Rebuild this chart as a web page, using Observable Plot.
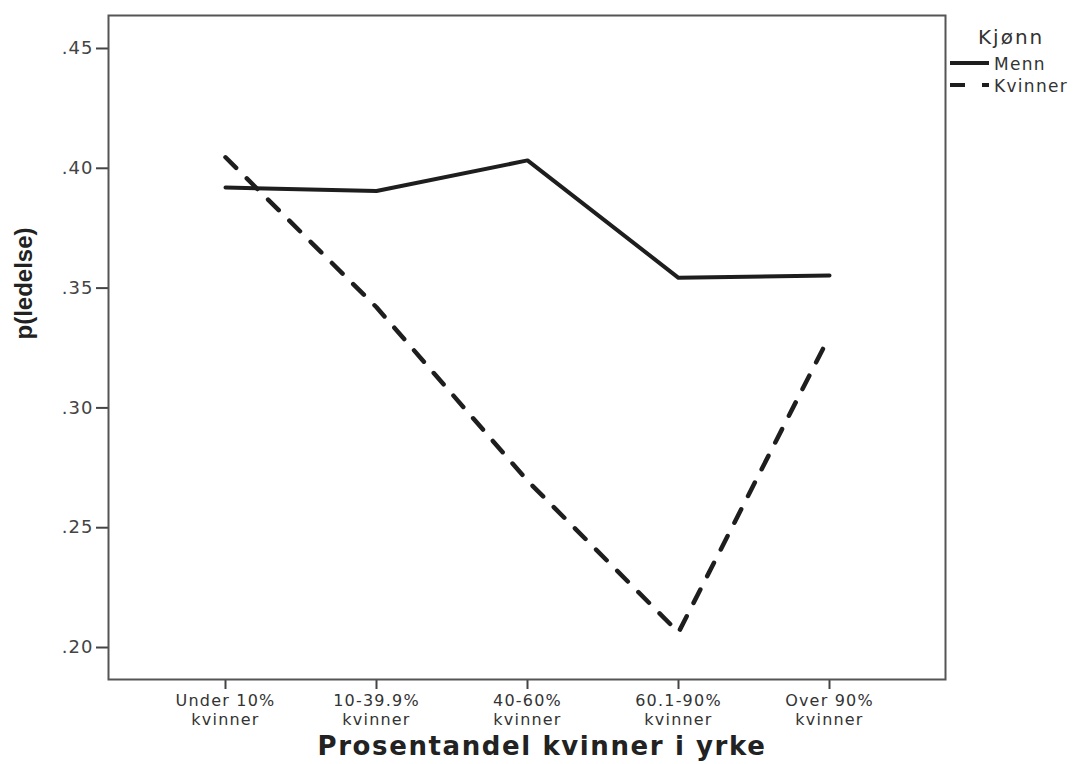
<!DOCTYPE html>
<html>
<head>
<meta charset="utf-8">
<script src="https://cdn.jsdelivr.net/npm/d3@7"></script>
<script src="https://cdn.jsdelivr.net/npm/@observablehq/plot@0.6"></script>
<style>
  body { margin: 0; background: #fff; }
  #wrap { position: relative; width: 1081px; height: 764px; font-family: "DejaVu Sans", sans-serif; }
</style>
</head>
<body>
<div id="wrap"></div>
<script>
const categories = ["Under 10%", "10-39.9%", "40-60%", "60.1-90%", "Over 90%"];
const tickLabels = ["Under 10%\nkvinner", "10-39.9%\nkvinner", "40-60%\nkvinner", "60.1-90%\nkvinner", "Over 90%\nkvinner"];
const menn = [0.392, 0.3905, 0.4033, 0.3543, 0.3553];
const kvinner = [0.4046, 0.342, 0.2696, 0.2063, 0.330];
const yTicks = [0.20, 0.25, 0.30, 0.35, 0.40, 0.45];
const seriesNames = ["Menn", "Kvinner"];

const rows = [];
categories.forEach((c, i) => {
  rows.push({cat: c, value: menn[i], kjonn: "Menn"});
  rows.push({cat: c, value: kvinner[i], kjonn: "Kvinner"});
});

const labelOf = new Map(categories.map((c, i) => [c, tickLabels[i]]));

const chart = Plot.plot({
  width: 1081,
  height: 764,
  marginLeft: 108,
  marginRight: 136,
  marginTop: 15,
  marginBottom: 85,
  style: {fontFamily: "DejaVu Sans, sans-serif", background: "#fff"},
  x: {type: "point", domain: categories, padding: 0.77},
  y: {domain: [0.18665, 0.46377]},
  marks: [
    Plot.axisY(yTicks, {
      tickSize: 12, tickPadding: 3, fontSize: 18, fill: "#444", stroke: "#444",
      strokeWidth: 2, label: null,
      tickFormat: d => d3.format(".2f")(d).replace(/^0/, "")
    }),
    Plot.axisX({
      tickSize: 10, tickPadding: 3, fontSize: 16, lineHeight: 1.2, fill: "#333", stroke: "#444",
      strokeWidth: 2, label: null,
      tickFormat: d => labelOf.get(d)
    }),
    Plot.frame({stroke: "#555", strokeWidth: 2}),
    Plot.line(rows.filter(d => d.kjonn === "Menn"), {x: "cat", y: "value", stroke: "#1e1e1e", strokeWidth: 4}),
    Plot.line(rows.filter(d => d.kjonn === "Kvinner"), {x: "cat", y: "value", stroke: "#1e1e1e", strokeWidth: 4.5, strokeDasharray: "15,15"}),
    Plot.text(["Prosentandel kvinner i yrke"], {
      frameAnchor: "bottom", dy: 75, dx: 15, fontSize: 26, fontWeight: "bold", fill: "#222"
    }),
    Plot.text(["p(ledelse)"], {
      frameAnchor: "left", dx: -84, dy: -8, rotate: -90, fontSize: 24, fontWeight: "bold", fill: "#222",
      fontFamily: "Liberation Sans, sans-serif"
    })
  ]
});

const sel = d3.select(chart);
sel.selectAll("g[aria-label='x-axis tick label']").attr("letter-spacing", "1.2px");
sel.selectAll("g[aria-label='y-axis tick label']").attr("letter-spacing", "1px");
sel.selectAll("text").filter(function() { return this.textContent === "Prosentandel kvinner i yrke"; })
  .attr("letter-spacing", "1.6px");

const wrap = document.getElementById("wrap");
wrap.appendChild(chart);

// legend
const ns = "http://www.w3.org/2000/svg";
const leg = document.createElementNS(ns, "svg");
leg.setAttribute("width", 1081);
leg.setAttribute("height", 110);
leg.style.position = "absolute";
leg.style.left = "0px";
leg.style.top = "0px";
const title = document.createElementNS(ns, "text");
title.setAttribute("x", 978);
title.setAttribute("y", 44);
title.setAttribute("font-size", 20);
title.setAttribute("letter-spacing", "2px");
title.setAttribute("fill", "#333");
title.setAttribute("font-family", "DejaVu Sans, sans-serif");
title.textContent = "Kjønn";
leg.appendChild(title);
seriesNames.forEach((name, i) => {
  const y = 63 + i * 22;
  const ln = document.createElementNS(ns, "line");
  ln.setAttribute("x1", 950); ln.setAttribute("x2", 989);
  ln.setAttribute("y1", y); ln.setAttribute("y2", y);
  ln.setAttribute("stroke", "#1e1e1e");
  ln.setAttribute("stroke-width", 4);
  if (i === 1) ln.setAttribute("stroke-dasharray", "15,17");
  leg.appendChild(ln);
  const t = document.createElementNS(ns, "text");
  t.setAttribute("x", 994);
  t.setAttribute("y", y + 7);
  t.setAttribute("font-size", 17);
  t.setAttribute("letter-spacing", "1.3px");
  t.setAttribute("fill", "#333");
  t.setAttribute("font-family", "DejaVu Sans, sans-serif");
  t.textContent = name;
  leg.appendChild(t);
});
wrap.appendChild(leg);
</script>
</body>
</html>
